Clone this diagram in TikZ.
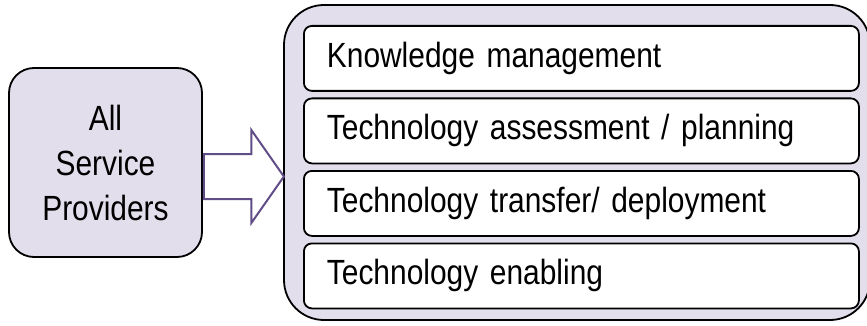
\documentclass[tikz,border=0pt]{standalone}
\usepackage{fontspec}
\setmainfont{Liberation Sans}[FakeStretch=0.855,WordSpace=0.8]
\usepackage{xcolor}
\usetikzlibrary{positioning,shapes.arrows}
\definecolor{lavender}{RGB}{226,222,236}
\definecolor{arrowpurple}{RGB}{96,76,134}

\begin{document}
\begin{tikzpicture}[x=1pt,y=-1pt,node distance=72.5pt,line width=1.8pt,
    panel/.style={draw=black,fill=lavender,rounded corners=#1},
    task/.style={draw=black,fill=white,rounded corners=8pt,minimum width=555pt,minimum height=65pt,
        text width=509pt,align=left,inner xsep=23pt,font=\fontsize{35}{40}\selectfont},
    blockarrow/.style={single arrow,draw=arrowpurple,fill=white,line width=2pt,inner xsep=0pt,inner ysep=21.5pt,
        minimum height=80pt,single arrow head extend=24pt,single arrow tip angle=110}]

            \useasboundingbox (0,0) rectangle (867,326);

            \node[panel=40pt, minimum width=586pt, minimum height=315pt] (tasks) at (577,162.5) {};

            \node[task, anchor=north west] (1) at (303,25) {Knowledge management};
            \node[task] (2) [below of = 1] {Technology assessment / planning};
            \node[task] (3) [below of = 2] {Technology transfer/ deployment};
            \node[task] (4) [below of = 3] {Technology enabling};

            \node[panel=25pt, minimum width=193pt, minimum height=189pt, align=center,
                font=\fontsize{35}{45}\selectfont] (prov) at (105.5,162.5) {All\\Service\\Providers};

            \node[blockarrow, anchor=tail] (arr) at ([yshift=-14pt]prov.east) {};

        \end{tikzpicture}
\end{document}
